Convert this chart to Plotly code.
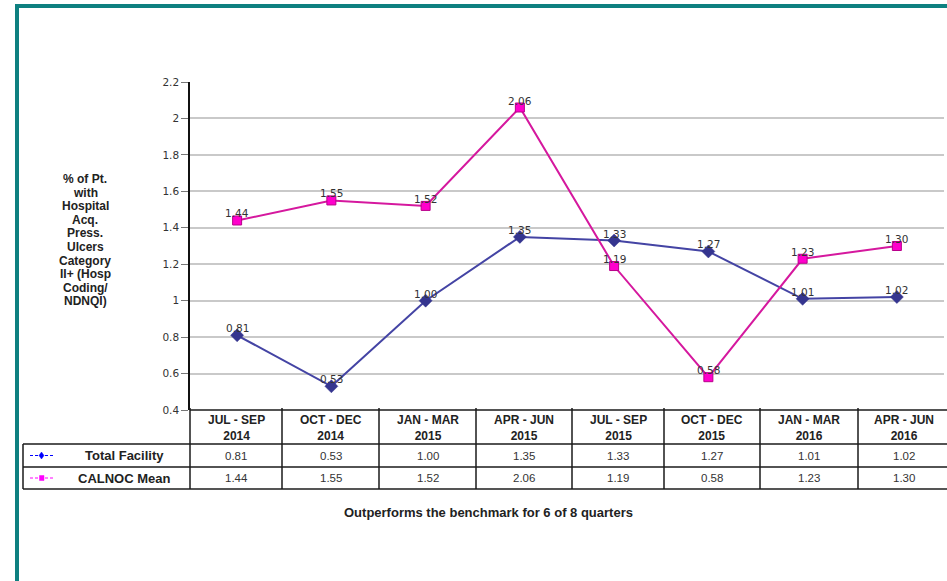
import plotly.graph_objects as go

# ---------------- data ----------------
quarters = ["JUL - SEP", "OCT - DEC", "JAN - MAR", "APR - JUN",
            "JUL - SEP", "OCT - DEC", "JAN - MAR", "APR - JUN"]
years = ["2014", "2014", "2015", "2015", "2015", "2015", "2016", "2016"]
total_facility = [0.81, 0.53, 1.00, 1.35, 1.33, 1.27, 1.01, 1.02]
calnoc_mean = [1.44, 1.55, 1.52, 2.06, 1.19, 0.58, 1.23, 1.30]
series_names = ["Total Facility", "CALNOC Mean"]
y_title_lines = ["% of Pt.", "with", "Hospital", "Acq.", "Press.", "Ulcers",
                 "Category", "II+ (Hosp", "Coding/", "NDNQI)"]
footnote = "Outperforms the benchmark for 6 of 8 quarters"

# ---------------- layout helpers ----------------
W, H = 947, 581


def px(x):
    return x / W


def py(y):
    return 1 - y / H


BLUE_LINE = "#4444A4"
BLUE_MK = "#35358F"
PINK_LINE = "#D5189E"
PINK_MK = "#FF00CC"
PINK_MK_EDGE = "#B8008A"
GRID = "#C9C9C9"
TXT = "#222222"

x_idx = list(range(len(quarters)))

fig = go.Figure()
fig.add_trace(go.Scatter(
    x=x_idx, y=total_facility, mode="lines+markers", name=series_names[0],
    line=dict(color=BLUE_LINE, width=2),
    marker=dict(symbol="diamond", size=10, color=BLUE_MK,
                line=dict(color=BLUE_MK, width=0.5)),
    hoverinfo="skip", showlegend=False))
fig.add_trace(go.Scatter(
    x=x_idx, y=calnoc_mean, mode="lines+markers", name=series_names[1],
    line=dict(color=PINK_LINE, width=2),
    marker=dict(symbol="square", size=9, color=PINK_MK,
                line=dict(color=PINK_MK_EDGE, width=1)),
    hoverinfo="skip", showlegend=False))

annotations = []


def ann(x, y, text, size, family="Liberation Sans, Arial", color=TXT, **kw):
    d = dict(x=x, y=y, xref="paper", yref="paper", text=text, showarrow=False,
             xanchor="center", yanchor="middle",
             font=dict(family=family, size=size, color=color))
    d.update(kw)
    annotations.append(d)


# data labels
for series in (total_facility, calnoc_mean):
    for i, v in enumerate(series):
        annotations.append(dict(
            x=i, y=v, xref="x", yref="y", text=f"{v:.2f}", showarrow=False,
            xanchor="center", yanchor="middle", yshift=7,
            font=dict(family="DejaVu Sans", size=10.5, color="#333333")))

# y-axis title (one annotation per line)
for k, line in enumerate(y_title_lines):
    ann(px(85), py(179 + k * 13.6), f"<b>{line}</b>", 12)

# table geometry
col_edges = [190, 282, 379, 476, 572, 664, 760, 858, 950]
left_edge = 23
y_top, y_head, y_r1, y_r2 = 410, 444, 467, 489

shapes = []
line_col = "#1A1A1A"
shapes.append(dict(type="line", xref="paper", yref="paper",
                   x0=px(col_edges[0]), x1=px(col_edges[-1]), y0=py(y_top), y1=py(y_top),
                   line=dict(color=line_col, width=1.5)))
for yy, wd, cc in ((y_head, 1.5, line_col), (y_r1, 1.5, line_col), (y_r2, 2, "#555555")):
    shapes.append(dict(type="line", xref="paper", yref="paper",
                       x0=px(left_edge), x1=px(col_edges[-1]), y0=py(yy), y1=py(yy),
                       line=dict(color=cc, width=wd)))
for xe in col_edges[:-1]:
    shapes.append(dict(type="line", xref="paper", yref="paper",
                       x0=px(xe), x1=px(xe), y0=py(y_top - 2), y1=py(y_r2),
                       line=dict(color=line_col, width=1.5)))
shapes.append(dict(type="line", xref="paper", yref="paper",
                   x0=px(left_edge), x1=px(left_edge), y0=py(y_head), y1=py(y_r2),
                   line=dict(color=line_col, width=1.5)))

# table text
for i in range(len(quarters)):
    cx = (col_edges[i] + col_edges[i + 1]) / 2
    ann(px(cx), py((y_top + y_head) / 2 + 1), f"<b>{quarters[i]}<br>{years[i]}</b>", 12)
    for series, (ya, yb) in ((total_facility, (y_head, y_r1)), (calnoc_mean, (y_r1, y_r2))):
        ann(px(cx), py((ya + yb) / 2), f"{series[i]:.2f}", 11.5, color="#333333")

for name, (ya, yb) in zip(series_names, ((y_head, y_r1), (y_r1, y_r2))):
    ann(px(125), py((ya + yb) / 2), f"<b>{name}</b>", 13)

# legend icons
for (ya, yb), col, kind in (((y_head, y_r1), "#0000FF", "diamond"), ((y_r1, y_r2), "#FF00FF", "square")):
    cy = (ya + yb) / 2
    shapes.append(dict(type="line", xref="paper", yref="paper",
                       x0=px(30), x1=px(53), y0=py(cy), y1=py(cy),
                       line=dict(color=col, width=1, dash="3px,2px")))
    if kind == "diamond":
        path = (f"M {px(41.5)} {py(cy - 3.5)} L {px(44)} {py(cy)} "
                f"L {px(41.5)} {py(cy + 3.5)} L {px(39)} {py(cy)} Z")
    else:
        path = (f"M {px(39.5)} {py(cy - 2.5)} L {px(44)} {py(cy - 2.5)} "
                f"L {px(44)} {py(cy + 2.5)} L {px(39.5)} {py(cy + 2.5)} Z")
    shapes.append(dict(type="path", xref="paper", yref="paper", path=path,
                       fillcolor=col, line=dict(color=col, width=0.5)))

# footnote
ann(px(488), py(512), f"<b>{footnote}</b>", 13)

# teal frame
TEAL = "#0E8080"
shapes.append(dict(type="rect", xref="paper", yref="paper",
                   x0=px(15), x1=px(947), y0=py(4), y1=py(8),
                   fillcolor=TEAL, line=dict(width=0)))
shapes.append(dict(type="rect", xref="paper", yref="paper",
                   x0=px(15), x1=px(19), y0=py(4), y1=py(581),
                   fillcolor=TEAL, line=dict(width=0)))

fig.update_layout(
    template="none",
    width=W, height=H,
    margin=dict(l=0, r=0, t=0, b=0, pad=0, autoexpand=False),
    paper_bgcolor="white", plot_bgcolor="white",
    xaxis=dict(domain=[px(190), px(944)], range=[-0.5, 7.5],
               showgrid=False, zeroline=False, showticklabels=False,
               ticks="", showline=False, fixedrange=True, automargin=False),
    yaxis=dict(domain=[py(410), py(82)], range=[0.4, 2.2], dtick=0.2, tick0=0.4,
               showgrid=True, gridcolor=GRID, gridwidth=1.5, zeroline=False,
               showline=True, linecolor="#111111", linewidth=1.5,
               ticks="outside", ticklen=7, tickcolor="#777777", tickwidth=1,
               tickfont=dict(family="DejaVu Sans", size=10.5, color="#333333"),
               fixedrange=True, automargin=False),
    annotations=annotations,
    shapes=shapes,
    showlegend=False,
)

fig.write_html("out.html", config={"displayModeBar": False})
